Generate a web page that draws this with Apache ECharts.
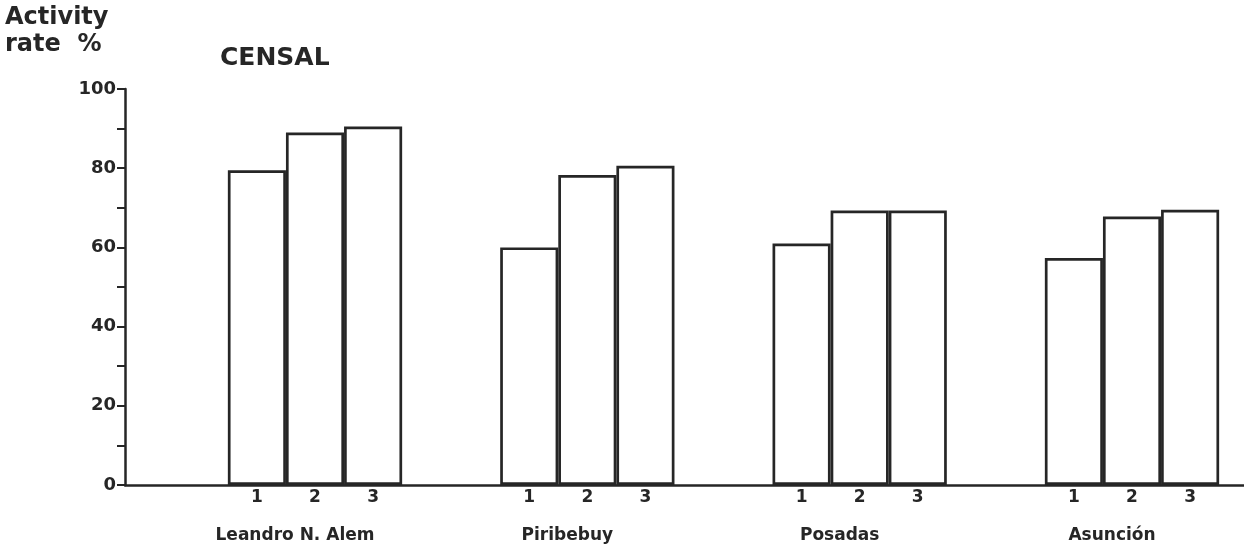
<!DOCTYPE html>
<html>
<head>
<meta charset="utf-8">
<script src="https://cdn.jsdelivr.net/npm/echarts@6/dist/echarts.min.js"></script>
<style>
html,body{margin:0;padding:0;background:#fff;}
#chart{width:1244px;height:549px;}
</style>
</head>
<body>
<div id="chart"></div>
<script>
const categories = ['Leandro N. Alem', 'Piribebuy', 'Posadas', 'Asunción'];
const seriesNames = ['1', '2', '3'];
const values1 = [79.5, 60.0, 61.0, 57.3];
const values2 = [89.0, 78.3, 69.3, 67.8];
const values3 = [90.5, 80.6, 69.3, 69.5];
const yTicks = [0, 20, 40, 60, 80, 100];

const ink = '#262626';
const fontFam = '"DejaVu Sans", "Liberation Sans", sans-serif';
const chart = echarts.init(document.getElementById('chart'), null, {renderer: 'canvas'});

const mkSeries = (name, data) => ({
  name: name,
  type: 'bar',
  xAxisIndex: 1,
  yAxisIndex: 1,
  data: data,
  clip: false,
  barGap: '0%',
  barCategoryGap: '36%',
  itemStyle: {color: '#fff', borderColor: ink, borderWidth: 2.7},
  label: {
    show: true, position: 'bottom', distance: 4, formatter: '{a}',
    color: ink, fontSize: 17, fontWeight: 'bold', fontFamily: fontFam
  },
  emphasis: {disabled: true},
  animation: false
});

chart.setOption({
  backgroundColor: '#fff',
  animation: false,
  title: [
    {text: 'Activity\nrate  %', left: 5, top: 4, padding: 0,
     textStyle: {fontSize: 24, fontWeight: 'bold', color: ink, lineHeight: 27, fontFamily: fontFam}},
    {text: 'CENSAL', left: 220, top: 46, padding: 0,
     textStyle: {fontSize: 25, fontWeight: 'bold', color: ink, fontFamily: fontFam}}
  ],
  grid: [
    {left: 125, right: 0, top: 89, bottom: 64, containLabel: false},
    {left: 315, width: 817, top: 89, bottom: 64, containLabel: false}
  ],
  xAxis: [
    {gridIndex: 0, type: 'category', data: categories,
     axisLine: {show: true, lineStyle: {color: ink, width: 2.5}},
     axisTick: {show: false}, axisLabel: {show: false}, splitLine: {show: false}},
    {gridIndex: 1, type: 'category', data: categories, boundaryGap: false,
     axisLine: {show: false}, axisTick: {show: false}, splitLine: {show: false},
     axisLabel: {show: true, margin: 42, color: ink, fontSize: 17, fontWeight: 'bold',
                 fontFamily: fontFam, padding: [0, 40, 0, 0]}}
  ],
  yAxis: [
    {gridIndex: 0, type: 'value', min: 0, max: 100, interval: 10,
     axisLine: {show: true, lineStyle: {color: ink, width: 2.5}},
     axisTick: {show: true, inside: false, length: 8, lineStyle: {color: ink, width: 2}},
     splitLine: {show: false},
     axisLabel: {margin: 9, color: ink, fontSize: 18, fontWeight: 'bold', fontFamily: fontFam,
                 formatter: v => (yTicks.indexOf(v) >= 0 ? String(v) : '')}},
    {gridIndex: 1, type: 'value', min: 0, max: 100, interval: 10, show: false}
  ],
  series: [
    mkSeries(seriesNames[0], values1),
    mkSeries(seriesNames[1], values2),
    mkSeries(seriesNames[2], values3)
  ]
});
</script>
</body>
</html>
